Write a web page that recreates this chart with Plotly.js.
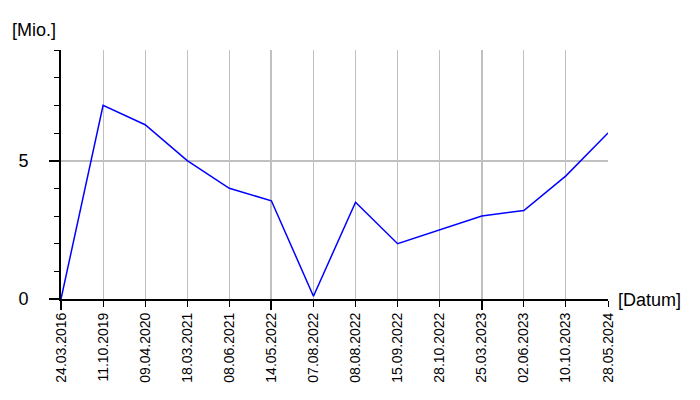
<!DOCTYPE html>
<html>
<head>
<meta charset="utf-8">
<script src="https://cdn.plot.ly/plotly-3.0.1.min.js"></script>
<style>body{margin:0;padding:0;background:#fff}#chart{width:700px;height:400px}</style>
</head>
<body>
<div id="chart"></div>
<script>
const dates = ["24.03.2016","11.10.2019","09.04.2020","18.03.2021","08.06.2021","14.05.2022","07.08.2022","08.08.2022","15.09.2022","28.10.2022","25.03.2023","02.06.2023","10.10.2023","28.05.2024"];
const values = [0, 7, 6.3, 5, 4, 3.55, 0.1, 3.5, 2, 2.5, 3, 3.2, 4.45, 6];
const majorDates = ["24.03.2016","14.05.2022","25.03.2023"];
const yTitle = "[Mio.]";
const xTitle = "[Datum]";

const idx = dates.map((d, i) => i);
const majorIdx = majorDates.map(d => dates.indexOf(d));
const fam = "Liberation Sans, Arial, sans-serif";
const font = {family: fam, size: 14, color: "#000"};

const traces = [
  {x: idx, y: values, type: "scatter", mode: "lines", line: {color: "#0000ff", width: 1.5}, xaxis: "x", yaxis: "y", hoverinfo: "skip"},
  {x: majorIdx, y: majorIdx.map(() => null), type: "scatter", mode: "lines", xaxis: "x2", yaxis: "y", hoverinfo: "skip", showlegend: false}
];

const layout = {
  width: 700, height: 400,
  margin: {l: 61, r: 92, t: 50, b: 101},
  paper_bgcolor: "#fff", plot_bgcolor: "#fff",
  showlegend: false,
  font: font,
  xaxis: {
    range: [0, dates.length - 1], tickmode: "array", tickvals: idx, ticktext: dates,
    tickangle: -90, ticks: "outside", ticklen: 6, tickwidth: 1, tickcolor: "#000",
    showgrid: true, gridcolor: "#c0c0c0", gridwidth: 1,
    showline: true, linecolor: "#000", linewidth: 2, zeroline: false,
    tickfont: font, fixedrange: true
  },
  xaxis2: {
    overlaying: "x", anchor: "y", side: "bottom",
    range: [0, dates.length - 1], tickmode: "array", tickvals: majorIdx, ticktext: majorIdx.map(() => ""),
    ticks: "outside", ticklen: 10, tickwidth: 2, tickcolor: "#000",
    showgrid: true, gridcolor: "#c0c0c0", gridwidth: 2,
    showline: false, zeroline: false, showticklabels: false
  },
  yaxis: {
    range: [0, 9], tickmode: "array", tickvals: [0, 5], ticktext: ["0", "5"],
    ticks: "outside", ticklen: 10, tickwidth: 2, tickcolor: "#000",
    showgrid: true, gridcolor: "#c0c0c0", gridwidth: 2,
    minor: {tickmode: "array", tickvals: [1,2,3,4,6,7,8,9], ticks: "outside", ticklen: 5, tickwidth: 1, tickcolor: "#000", showgrid: false},
    showline: true, linecolor: "#000", linewidth: 2, zeroline: false,
    tickfont: {family: fam, size: 18, color: "#000"}, ticklabelstandoff: 17, fixedrange: true
  },
  annotations: [
    {text: yTitle, xref: "paper", yref: "paper", x: -0.093, y: 1.0, yshift: 20, xanchor: "left", yanchor: "middle", showarrow: false, font: {family: fam, size: 18, color: "#000"}},
    {text: xTitle, xref: "paper", yref: "paper", x: 1.0, y: 0, xshift: 8, yshift: -1, xanchor: "left", yanchor: "middle", showarrow: false, font: {family: fam, size: 18, color: "#000"}}
  ]
};

Plotly.newPlot("chart", traces, layout, {staticPlot: true, displayModeBar: false});
</script>
</body>
</html>
